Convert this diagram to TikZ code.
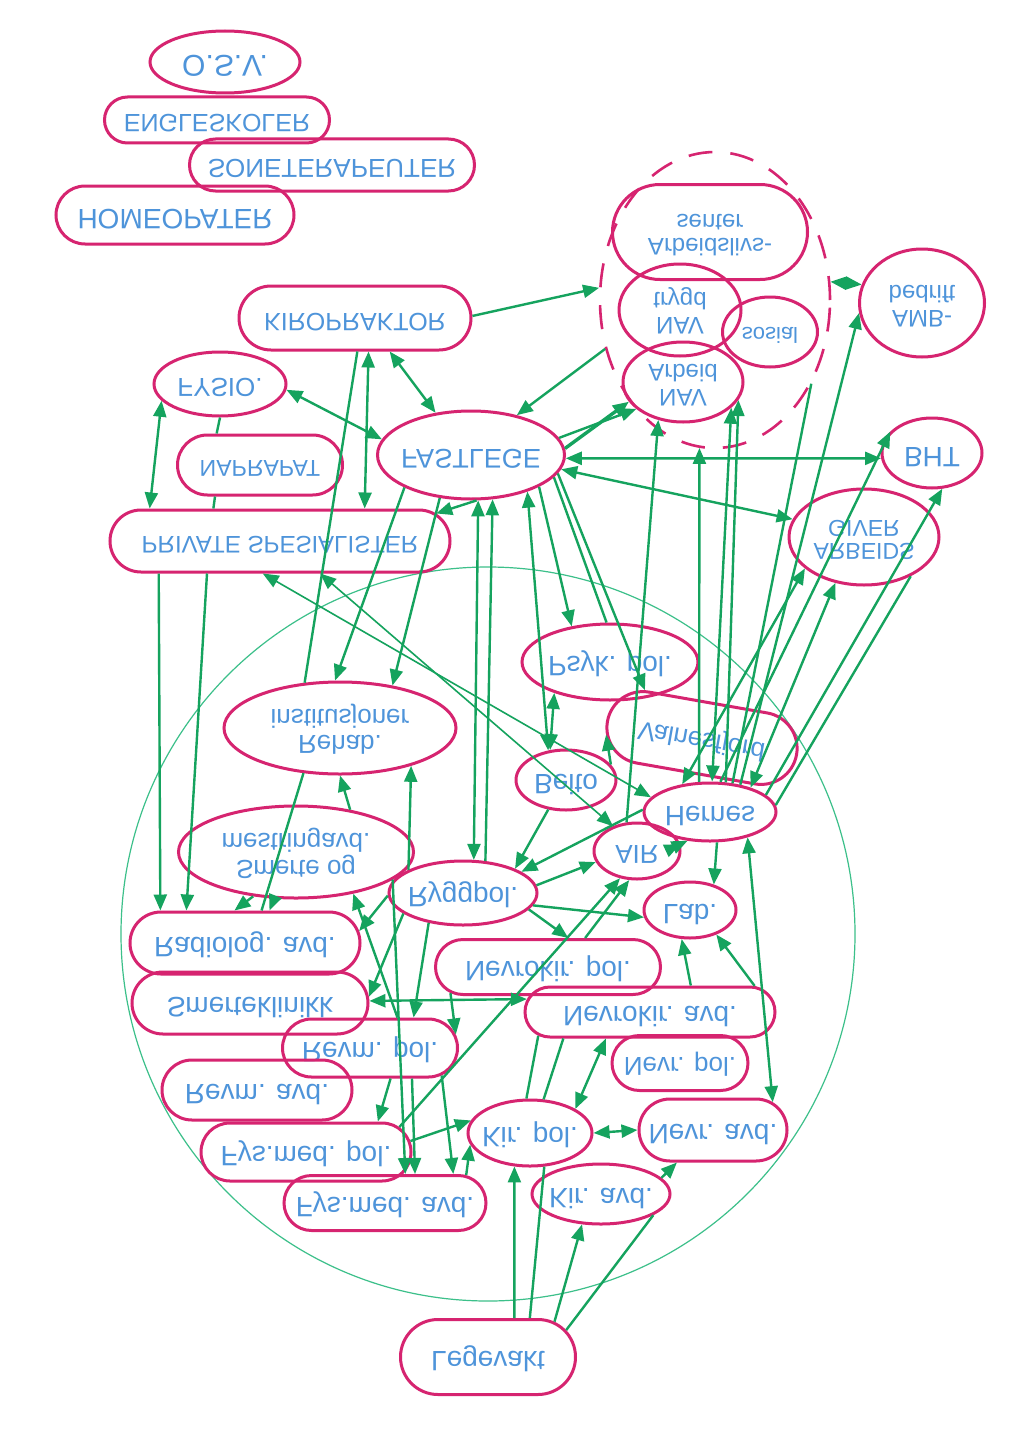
\documentclass[tikz,border=0pt]{standalone}
\usepackage{fontspec}
\setmainfont{Liberation Sans}
\usetikzlibrary{shapes.geometric,shapes.misc,arrows.meta}
\definecolor{pnk}{HTML}{D62470}
\definecolor{blu}{HTML}{4E94DA}
\definecolor{grn}{HTML}{15A35E}
\definecolor{lgrn}{HTML}{3CC08A}
\newcommand{\ft}[2][14]{\scalebox{1}[-1]{\makebox[0pt]{\fontsize{#1}{#1}\selectfont\begin{tabular}{@{}c@{}}#2\end{tabular}}}}
\tikzset{
  Tri/.tip={Triangle[length=8pt,width=6.5pt]},
  bub/.style 2 args={ellipse, draw=pnk, line width=1.5pt, inner sep=0pt, text=blu,
    minimum width=#1*0.5pt, minimum height=#2*0.5pt},
  rr/.style 2 args={rounded rectangle, draw=pnk, line width=1.5pt, inner sep=0pt, text=blu,
    minimum width=#1*0.5pt, minimum height=#2*0.5pt},
  grpsty/.style={ellipse, draw=pnk, line width=1.3pt, dash pattern=on 12pt off 9pt,
    minimum width=115pt, minimum height=148pt, inner sep=0pt},
  e/.style={draw=grn, line width=1.2pt},
  et/.style={draw=grn, line width=0.8pt},
  ar/.style={e, -Tri},
  ra/.style={e, Tri-},
  dar/.style={e, Tri-Tri},
}
\begin{document}
\begin{tikzpicture}[x=0.5pt, y=-0.5pt]
\useasboundingbox[fill=white] (0,0) rectangle (1024,1429);
% big thin circle
\draw[lgrn, line width=0.6pt] (488,934) circle [radius=183.5pt];
% dashed group
\node[grpsty] (grp) at (715,300) {};
% top list
\node[bub={150}{62}] (osv) at (225,62) {\ft[15]{O.S.V.}};
\node[rr={225}{46}] (engle) at (217,120) {\ft[12.5]{ENGLESKOLER}};
\node[rr={285}{52}] (sone) at (332,165) {\ft[13]{SONETERAPEUTER}};
\node[rr={238}{58}] (homeo) at (175,215) {\ft[14]{HOMEOPATER}};
% NAV group
\node[rr={195}{95}] (als) at (710,232) {\ft[12]{Arbeidslivs-\\senter}};
\node[bub={122}{92}] (navt) at (680,310) {\ft[12]{NAV\\trygd}};
\node[bub={95}{70}] (sos) at (770,332) {\ft[11]{sosial}};
\node[bub={120}{80}] (nava) at (683,382) {\ft[12]{NAV\\Arbeid}};
\node[bub={125}{108}] (amb) at (922,303) {\ft[12]{AMB-\\bedrift}};
% upper left
\node[rr={232}{64}] (kiro) at (355,318) {\ft[12.5]{KIROPRAKTOR}};
\node[bub={132}{64}] (fysio) at (220,384) {\ft[13]{FYSIO.}};
\node[rr={165}{60}] (napr) at (260,465) {\ft[11.5]{NAPRAPAT}};
\node[bub={187}{88}] (fast) at (471,455) {\ft[13.5]{FASTLEGE}};
\node[rr={340}{62}] (priv) at (280,541) {\ft[12]{PRIVATE SPESIALISTER}};
\node[bub={100}{70}] (bht) at (932,453) {\ft[14]{BHT}};
\node[bub={150}{96}] (giver) at (864,537) {\ft[11.5]{ARBEIDS\\GIVER}};
% middle
\node[bub={176}{76}] (psyk) at (610,662) {\ft[14]{Psyk. pol.}};
\node[rr={192}{72}, rotate=-10] (vlm) at (702,738) {\ft[13]{Valnesfjord}};
\node[bub={100}{60}] (beito) at (566,780) {\ft[14]{Beito}};
\node[bub={132}{58}] (hemes) at (710,812) {\ft[14]{Hernes}};
\node[bub={86}{56}] (air) at (637,851) {\ft[13]{AIR}};
\node[bub={92}{56}] (lab) at (690,910) {\ft[14]{Lab.}};
\node[bub={148}{64}] (kagg) at (463,893) {\ft[14]{Ryggpol.}};
\node[bub={232}{92}] (rehab) at (340,728) {\ft[13]{Rehab.\\institusjoner}};
\node[bub={235}{92}] (smog) at (296,852) {\ft[13]{Smerte og\\mestringavd.}};
\node[rr={230}{62}] (radio) at (245,943) {\ft[14]{Radiolog. avd.}};
\node[rr={236}{62}] (smk) at (250,1003) {\ft[14]{Smerteklinikk}};
\node[rr={225}{55}] (nkp) at (548,967) {\ft[14]{Nevrokir. pol.}};
\node[rr={250}{50}] (nka) at (650,1012) {\ft[14]{Nevrokir. avd.}};
\node[rr={175}{58}] (rvp) at (370,1048) {\ft[14]{Revm. pol.}};
\node[rr={190}{60}] (rva) at (257,1090) {\ft[14]{Revm. avd.}};
\node[rr={136}{55}] (nvp) at (680,1063) {\ft[13]{Nevr. pol.}};
\node[rr={210}{58}] (fmp) at (306,1152) {\ft[14]{Fys.med. pol.}};
\node[bub={124}{66}] (kp) at (530,1133) {\ft[14]{Kir. pol.}};
\node[rr={148}{62}] (nva) at (713,1130) {\ft[14]{Nevr. avd.}};
\node[rr={202}{55}] (fma) at (385,1203) {\ft[14]{Fys.med. avd.}};
\node[bub={138}{60}] (ka) at (601,1194) {\ft[14]{Kir. avd.}};
\node[rr={175}{75}] (lv) at (488,1357) {\ft[14]{Legevakt}};
% ---- connectors: top
\draw[ar] (kiro.1) -- (grp.174);
\draw[dar] (kiro.-44) -- (fast.130);
\draw[dar] (kiro.-68) -- (priv.21);
\draw[e] (kiro.-86) -- (rehab.128);
\draw[dar] (fysio.-5) -- (fast.170);
\draw[dar] (fysio.-164) -- (priv.166);
\draw[e] (fysio.-90) -- (napr.144);
\draw[e] (napr.-145) -- (priv.154);
\draw[ar] (fast.-83) -- (priv.10);
\draw[ar, line width=1.7pt] (fast.4) -- (nava.-160);
\draw[ar] (fast.11) -- (nava.-150);
\draw[ar] (grp.-156) -- (fast.41);
\draw[dar] (amb.163) -- (grp.9);
\draw[dar] (fast.-2) -- (bht.186);
\draw[dar] (fast.-9) -- (giver.166);
\draw[dar] (fast.-33) -- (beito.121);
\draw[ar] (fast.-25) -- (psyk.137);
\draw[e] (fast.-15) -- (psyk.95);
\draw[ar] (fast.-12) -- (vlm.150);
\draw[dar] (psyk.-151) -- (beito.118);
\draw[ar] (beito.19) -- (vlm.-172);
\draw[et, Tri-Tri] (priv.-118) -- (hemes.166);
\draw[et, Tri-Tri] (priv.-39) -- (air.134);
\draw[ar] (fast.-154) -- (rehab.96);
\draw[ar] (fast.-126) -- (rehab.39);
\draw[dar] (fast.-81) -- (kagg.72);
\draw[ra] (fast.-64) -- (kagg.55);
\draw[ar] (priv.-165) -- (radio.159);
\draw[ar] (priv.-156) -- (radio.151);
\draw[ar] (smog.-134) -- (radio.108);
\draw[ar] (smog.-115) -- (radio.53);
\draw[ar] (smog.38) -- (rehab.-90);
\draw[e] (rehab.-129) -- (radio.63);
\draw[ar] (kagg.157) -- (rehab.-28);
% crossing zone
\draw[ar] (kagg.182) -- (radio.6);
\draw[ar] (kagg.-161) -- (smk.3);
\draw[ar] (kagg.-139) -- (rvp.35);
\draw[ar] (rvp.48) -- (smog.-36);
\draw[ar] (smog.-16) -- (fma.55);
\draw[dar] (nka.174) -- (smk.1);
\draw[ar] (nkp.-165) -- (rvp.9);
% lower
\draw[ar] (rvp.-56) -- (fmp.23);
\draw[ar] (rvp.-36) -- (fma.44);
\draw[ar] (rvp.-21) -- (fma.23);
\draw[ar] (fmp.6) -- (kp.168);
\draw[ar] (fma.19) -- (kp.-169);
\draw[ar] (fmp.15) -- (air.-122);
\draw[dar] (kp.28) -- (nka.-149);
\draw[e] (nka.-168) -- (kp.96);
\draw[e] (nka.-163) -- (kp.68);
\draw[dar] (kp.0) -- (nva.180);
\draw[ar] (ka.15) -- (nva.-138);
\draw[ar] (lv.56) -- (kp.-115);
\draw[e] (lv.43) -- (kp.-67);
\draw[ar] (lv.28) -- (ka.-122);
\draw[e] (lv.19) -- (ka.-22);
\draw[dar] (hemes.-34) -- (nva.25);
\draw[ar] (hemes.-77) -- (lab.47);
\draw[ar] (nka.33) -- (lab.-106);
\draw[ar] (nka.14) -- (lab.-43);
\draw[ar] (kagg.-10) -- (lab.-171);
\draw[ar] (kagg.6) -- (air.-165);
\draw[ar] (kagg.-14) -- (nkp.55);
\draw[ar] (nkp.38) -- (air.-105);
\draw[ar] (beito.-121) -- (kagg.25);
\draw[ar] (hemes.178) -- (kagg.20);
\draw[dar] (air.9) -- (hemes.-128);
% right side
\draw[dar] (giver.-152) -- (hemes.135);
\draw[dar] (giver.-122) -- (hemes.31);
\draw[e] (giver.-40) -- (hemes.6);
\draw[ar] (hemes.17) -- (bht.-74);
\draw[ar] (hemes.71) -- (bht.153);
\draw[ar] (hemes.42) -- (amb.-171);
\draw[e] (grp.-41) -- (hemes.52);
\draw[dar] (nava.-28) -- (hemes.86);
\draw[ar] (hemes.62) -- (nava.-18);
\draw[ar] (hemes.110) -- (grp.-96);
\draw[ra] (nava.-123) -- (air.110);
\end{tikzpicture}
\end{document}
